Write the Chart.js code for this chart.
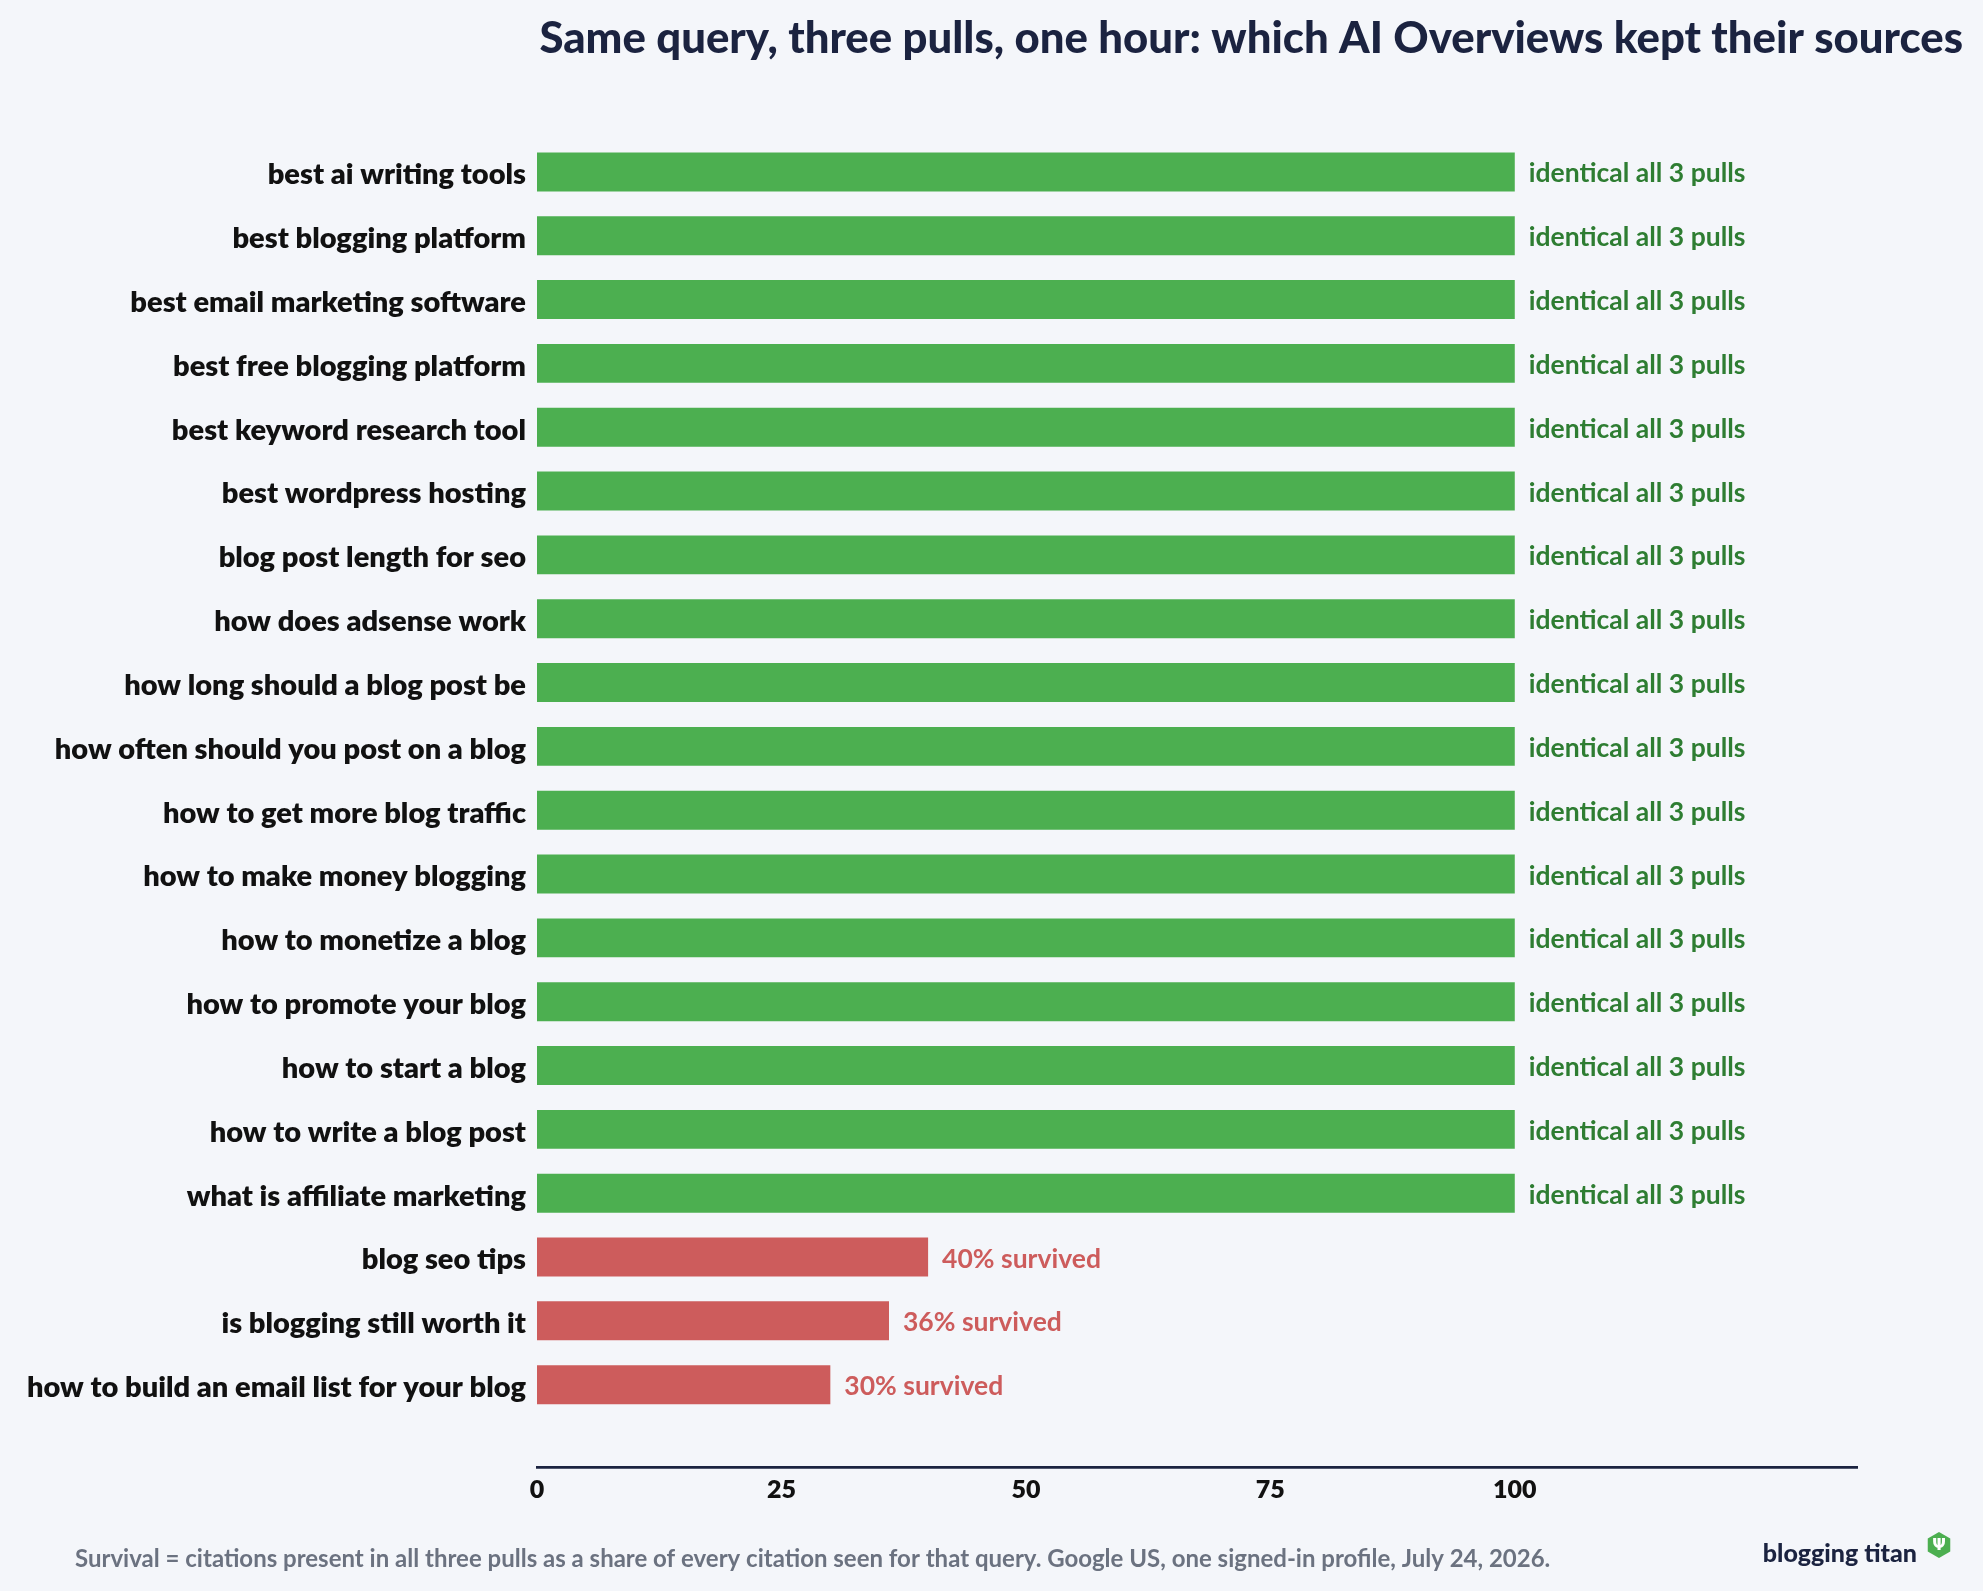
<!DOCTYPE html>
<html>
<head>
<meta charset="utf-8">
<script src="https://cdn.jsdelivr.net/npm/chart.js@4.4.1/dist/chart.umd.min.js"></script>
<style>
  html, body { margin: 0; padding: 0; background: #f4f6fa; }
  #wrap { width: 1983px; height: 1591px; }
</style>
</head>
<body>
<div id="wrap"><canvas id="grafico"></canvas></div>
<script>
const queries = [
  "best ai writing tools",
  "best blogging platform",
  "best email marketing software",
  "best free blogging platform",
  "best keyword research tool",
  "best wordpress hosting",
  "blog post length for seo",
  "how does adsense work",
  "how long should a blog post be",
  "how often should you post on a blog",
  "how to get more blog traffic",
  "how to make money blogging",
  "how to monetize a blog",
  "how to promote your blog",
  "how to start a blog",
  "how to write a blog post",
  "what is affiliate marketing",
  "blog seo tips",
  "is blogging still worth it",
  "how to build an email list for your blog"
];
const survival = [100, 100, 100, 100, 100, 100, 100, 100, 100, 100, 100, 100, 100, 100, 100, 100, 100, 40, 36, 30];
const xTicks = [0, 25, 50, 75, 100];

const FONTE = "Lato, 'DejaVu Sans', sans-serif";
const VERDE = "#4caf50";
const VERDE_TEXTO = "#2e7d32";
const VERMELHO = "#cd5c5c";
const NAVY = "#1b2340";

function rotulo(v) {
  return v === 100 ? "identical all 3 pulls" : v + "% survived";
}

// rótulos no fim das barras
const rotulosPlugin = {
  id: "rotulos",
  afterDatasetsDraw(chart) {
    const ctx = chart.ctx;
    const meta = chart.getDatasetMeta(0);
    ctx.save();
    ctx.font = "700 26.5px " + FONTE;
    ctx.textBaseline = "middle";
    ctx.textAlign = "left";
    meta.data.forEach((bar, i) => {
      ctx.fillStyle = survival[i] === 100 ? VERDE_TEXTO : VERMELHO;
      ctx.fillText(rotulo(survival[i]), bar.x + 14, bar.y + 2);
    });
    ctx.restore();
  }
};

// título, rodapé e logo
const textosPlugin = {
  id: "textos",
  afterDraw(chart) {
    const ctx = chart.ctx;
    ctx.save();
    ctx.textBaseline = "middle";

    ctx.fillStyle = NAVY;
    ctx.font = "900 43.7px " + FONTE;
    ctx.textAlign = "right";
    ctx.fillText("Same query, three pulls, one hour: which AI Overviews kept their sources", 1963, 39);

    ctx.fillStyle = "#6b7280";
    ctx.font = "700 24px " + FONTE;
    ctx.textAlign = "left";
    ctx.fillText("Survival = citations present in all three pulls as a share of every citation seen for that query. Google US, one signed-in profile, July 24, 2026.", 75, 1559);

    ctx.fillStyle = NAVY;
    ctx.font = "900 25px " + FONTE;
    ctx.textAlign = "right";
    ctx.fillText("blogging titan", 1917, 1554);

    // hexágono verde
    const cx = 1939, cy = 1545, r = 13;
    ctx.beginPath();
    for (let k = 0; k < 6; k++) {
      const a = Math.PI / 3 * k - Math.PI / 2;
      const px = cx + r * Math.cos(a), py = cy + r * Math.sin(a);
      if (k === 0) ctx.moveTo(px, py); else ctx.lineTo(px, py);
    }
    ctx.closePath();
    ctx.fillStyle = VERDE;
    ctx.fill();
    ctx.fillStyle = "#ffffff";
    ctx.font = "700 16px 'DejaVu Sans', sans-serif";
    ctx.textAlign = "center";
    ctx.fillText("\u03A8", cx, cy + 1);

    ctx.restore();
  }
};

new Chart(document.getElementById("grafico"), {
  type: "bar",
  data: {
    datasets: [
      {
        data: survival.map((v, i) => ({ x: v, y: i })),
        backgroundColor: survival.map(v => (v === 100 ? VERDE : VERMELHO)),
        borderWidth: 0,
        categoryPercentage: 1,
        barPercentage: 0.61
      }
    ]
  },
  options: {
    indexAxis: "y",
    responsive: true,
    maintainAspectRatio: false,
    animation: false,
    layout: { padding: { top: 140, right: 126, bottom: 0, left: 0 } },
    plugins: {
      legend: { display: false },
      tooltip: { enabled: false }
    },
    scales: {
      x: {
        type: "linear",
        min: 0,
        max: 135,
        offset: false,
        afterBuildTicks: s => { s.ticks = xTicks.map(v => ({ value: v })); },
        afterFit: s => { s.height = 124; },
        grid: { display: false, drawTicks: false },
        border: { display: true, color: NAVY, width: 2.7 },
        ticks: {
          padding: 8,
          color: "#111111",
          font: { family: FONTE, size: 25, weight: "800" }
        }
      },
      y: {
        type: "linear",
        reverse: true,
        offset: false,
        min: -0.5,
        max: 20.29,
        afterBuildTicks: s => { s.ticks = queries.map((_, i) => ({ value: i })); },
        afterFit: s => { s.width = 537; },
        grid: { display: false, drawTicks: false },
        border: { display: false },
        ticks: {
          autoSkip: false,
          padding: 11,
          labelOffset: 3,
          color: "#111111",
          font: { family: FONTE, size: 29, weight: "800" },
          callback: v => queries[v]
        }
      }
    }
  },
  plugins: [rotulosPlugin, textosPlugin]
});
</script>
</body>
</html>
